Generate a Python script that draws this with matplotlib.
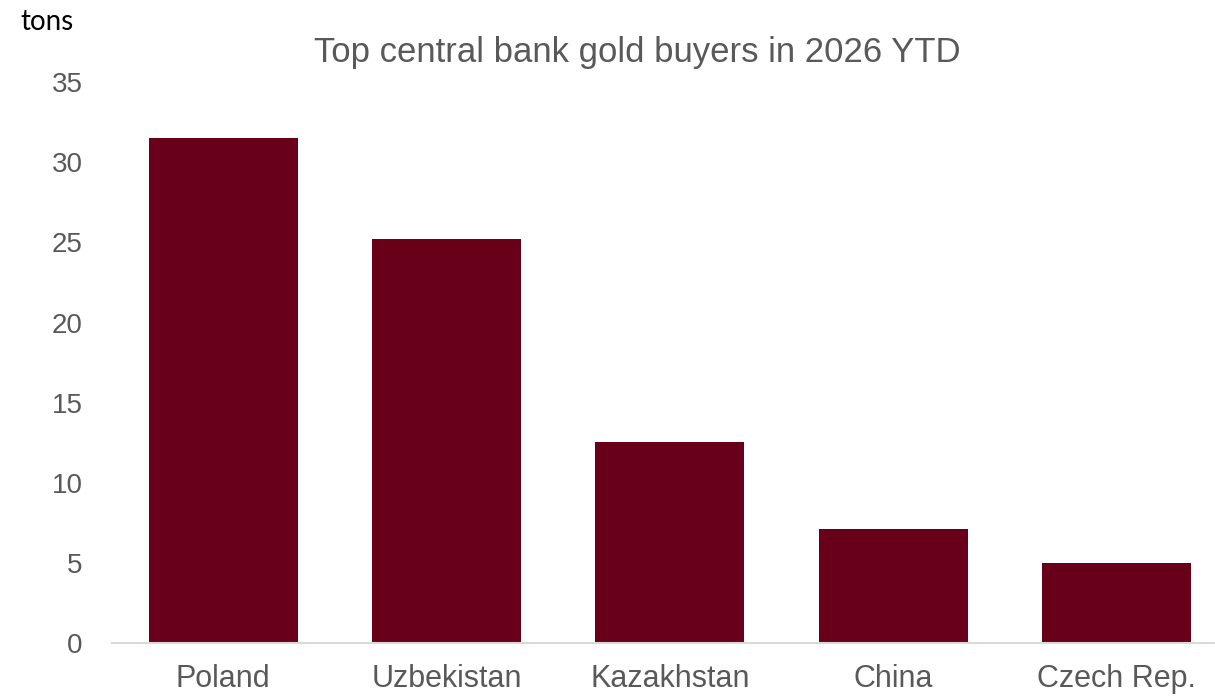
import matplotlib.pyplot as plt

# data
countries = ['Poland', 'Uzbekistan', 'Kazakhstan', 'China', 'Czech Rep.']
tons = [31.5, 25.2, 12.55, 7.1, 5.0]
y_ticks = [0, 5, 10, 15, 20, 25, 30, 35]

bar_color = '#680019'
text_gray = '#595959'

plt.rcParams['font.family'] = ['Liberation Sans', 'DejaVu Sans']

fig = plt.figure(figsize=(12.15, 6.96), dpi=100)
ax = fig.add_axes([0.0919, 0.0757, 0.9188, 0.8065])

x = range(len(countries))
ax.bar(x, tons, width=0.667, color=bar_color, zorder=2)

ax.set_xlim(-0.5, len(countries) - 0.5)
ax.set_ylim(0, 35)
ax.set_yticks(y_ticks)
ax.set_xticks(list(x))
ax.set_xticklabels(countries)

for side in ['top', 'right', 'left']:
    ax.spines[side].set_visible(False)
ax.spines['bottom'].set_color('#d9d9d9')
ax.spines['bottom'].set_linewidth(1.5)

ax.tick_params(axis='both', length=0, colors=text_gray)
ax.tick_params(axis='y', pad=21, labelsize=20)
ax.tick_params(axis='x', pad=15, labelsize=22)

fig.text(637 / 1215, 1 - 62 / 696, 'Top central bank gold buyers in 2026 YTD',
         ha='center', va='baseline', fontsize=25, color=text_gray)
fig.text(20 / 1215, 1 - 30 / 696, 'tons', ha='left', va='baseline',
         fontsize=20, color='black', family=['Lato', 'DejaVu Sans'])

fig.savefig('out.png', dpi=100)
